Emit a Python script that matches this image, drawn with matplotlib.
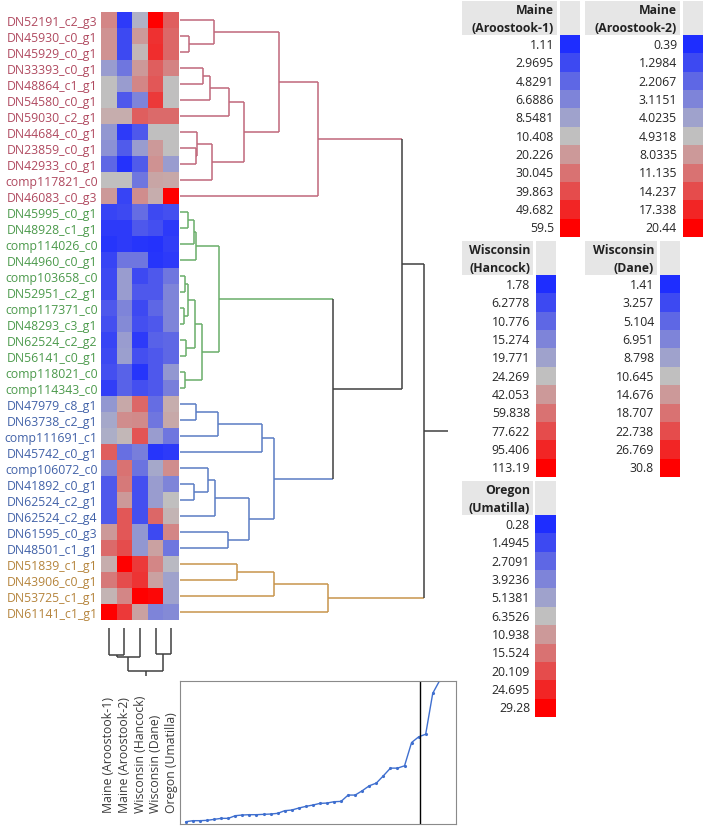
import numpy as np
import matplotlib.pyplot as plt
from matplotlib.colors import LinearSegmentedColormap
from matplotlib.patches import Rectangle
import matplotlib.transforms as mtransforms

plt.rcParams['font.family'] = ['Open Sans', 'DejaVu Sans']

genes = ['DN52191_c2_g3', 'DN45930_c0_g1', 'DN45929_c0_g1', 'DN33393_c0_g1', 'DN48864_c1_g1',
         'DN54580_c0_g1', 'DN59030_c2_g1', 'DN44684_c0_g1', 'DN23859_c0_g1', 'DN42933_c0_g1',
         'comp117821_c0', 'DN46083_c0_g3',
         'DN45995_c0_g1', 'DN48928_c1_g1', 'comp114026_c0', 'DN44960_c0_g1', 'comp103658_c0',
         'DN52951_c2_g1', 'comp117371_c0', 'DN48293_c3_g1', 'DN62524_c2_g2', 'DN56141_c0_g1',
         'comp118021_c0', 'comp114343_c0',
         'DN47979_c8_g1', 'DN63738_c2_g1', 'comp111691_c1', 'DN45742_c0_g1', 'comp106072_c0',
         'DN41892_c0_g1', 'DN62524_c2_g1', 'DN62524_c2_g4', 'DN61595_c0_g3', 'DN48501_c1_g1',
         'DN51839_c1_g1', 'DN43906_c0_g1', 'DN53725_c1_g1', 'DN61141_c1_g1']
gene_cluster = [0] * 12 + [1] * 12 + [2] * 10 + [3] * 4
text_colors = ['#b04a60', '#4c9a4c', '#4262a8', '#b5843c']
line_colors = ['#c0677a', '#6aae6a', '#5a7cc4', '#c8944c']
dark = '#404040'

samples = ['Maine (Aroostook-1)', 'Maine (Aroostook-2)', 'Wisconsin (Hancock)',
           'Wisconsin (Dane)', 'Oregon (Umatilla)']

# position on each sample's colour scale: 0 = lowest (blue), 5 = middle (grey), 10 = highest (red)
levels = np.array([
    [6.5, 0.5, 4.5, 10.0, 7.5],
    [6.2, 1.0, 6.0, 8.7, 7.3],
    [6.2, 1.0, 5.2, 8.8, 7.3],
    [3.8, 2.5, 6.0, 7.5, 6.6],
    [5.0, 3.8, 6.5, 7.7, 5.0],
    [5.0, 1.5, 3.0, 8.5, 5.0],
    [5.5, 5.5, 7.5, 7.2, 7.2],
    [3.6, 0.5, 1.5, 5.0, 5.0],
    [3.4, 1.6, 3.8, 6.0, 5.0],
    [2.0, 0.2, 1.6, 6.2, 3.8],
    [5.0, 5.0, 2.5, 5.7, 5.6],
    [6.0, 0.8, 6.3, 5.5, 10.0],
    [0.8, 1.0, 2.2, 1.0, 1.2],
    [0.5, 0.5, 1.5, 1.2, 0.5],
    [0.3, 0.5, 0.3, 0.2, 0.6],
    [0.8, 2.5, 2.5, 0.3, 0.5],
    [1.0, 3.8, 1.0, 1.5, 2.5],
    [1.0, 3.8, 1.5, 1.5, 3.0],
    [1.5, 3.0, 1.0, 2.0, 3.0],
    [1.2, 3.2, 1.2, 1.5, 3.0],
    [0.8, 3.8, 0.5, 1.8, 2.0],
    [1.0, 3.9, 1.2, 1.5, 2.0],
    [1.2, 1.8, 0.3, 1.5, 3.6],
    [0.6, 1.8, 1.2, 1.5, 2.8],
    [3.6, 5.6, 7.3, 2.2, 5.5],
    [4.2, 6.3, 6.4, 2.5, 5.6],
    [4.4, 5.2, 7.8, 3.8, 2.5],
    [7.5, 2.3, 2.8, 0.3, 0.5],
    [3.0, 7.0, 2.4, 4.2, 6.3],
    [1.5, 6.8, 1.2, 3.8, 3.0],
    [1.5, 6.0, 1.2, 3.8, 5.0],
    [1.5, 7.7, 1.2, 7.3, 5.3],
    [6.0, 7.7, 3.6, 1.0, 6.5],
    [7.2, 8.0, 3.6, 5.8, 2.5],
    [5.5, 10.0, 8.5, 6.5, 4.8],
    [6.8, 8.0, 8.6, 5.8, 4.0],
    [5.3, 6.5, 10.0, 9.8, 4.0],
    [10.0, 8.5, 5.8, 3.0, 3.2],
])

# row tree: (child a, child b, join distance); leaves 0-37, new nodes numbered from 38
row_merges = [(1, 2, 9), (0, 38, 34), (3, 4, 23), (40, 5, 30), (41, 6, 49), (8, 9, 15.7),
              (7, 43, 17.3), (44, 10, 32), (42, 45, 64.3), (39, 46, 99.3), (47, 11, 138.3),
              (12, 13, 8), (49, 14, 14), (50, 15, 16), (16, 17, 5), (18, 19, 4), (52, 53, 8),
              (20, 21, 6), (54, 55, 15), (22, 23, 5), (56, 57, 22.3), (51, 58, 39),
              (24, 25, 15.7), (60, 26, 37.7), (61, 27, 81.7), (29, 30, 14.3), (28, 63, 27.7),
              (64, 31, 35), (32, 33, 48.3), (65, 66, 69.3), (62, 67, 94.3),
              (34, 35, 56.7), (69, 36, 94.3), (70, 37, 148.3),
              (59, 68, 152.7), (48, 72, 222.3), (73, 71, 244.3)]
row_tail = 268

col_merges = [(0, 1, 27), (5, 2, 29.3), (3, 4, 26), (6, 7, 42.7)]
col_tail = 47.7

legend_titles = [('Maine', '(Aroostook-1)'), ('Maine', '(Aroostook-2)'), ('Wisconsin', '(Hancock)'),
                 ('Wisconsin', '(Dane)'), ('Oregon', '(Umatilla)')]
legend_ticks = [
    ['1.11', '2.9695', '4.8291', '6.6886', '8.5481', '10.408', '20.226', '30.045', '39.863', '49.682', '59.5'],
    ['0.39', '1.2984', '2.2067', '3.1151', '4.0235', '4.9318', '8.0335', '11.135', '14.237', '17.338', '20.44'],
    ['1.78', '6.2778', '10.776', '15.274', '19.771', '24.269', '42.053', '59.838', '77.622', '95.406', '113.19'],
    ['1.41', '3.257', '5.104', '6.951', '8.798', '10.645', '14.676', '18.707', '22.738', '26.769', '30.8'],
    ['0.28', '1.4945', '2.7091', '3.9236', '5.1381', '6.3526', '10.938', '15.524', '20.109', '24.695', '29.28'],
]

join_dist = [7, 10, 10, 11, 14, 17, 17, 25, 27, 28, 28, 29, 30, 32, 40, 42, 48, 53, 57,
             62, 63, 67, 68, 87, 87, 100, 115, 123, 145, 168, 168, 175, 245, 262, 270, 393, 432]
cut_at = 33.2

cmap = LinearSegmentedColormap.from_list('bgr', ['#1e2dff', '#c0c0c0', '#ff0000'])

W, H = 709, 828
fig = plt.figure(figsize=(W / 100, H / 100), dpi=100)


def px_axes(x0, y0, x1, y1):
    return fig.add_axes([x0 / W, 1 - y1 / H, (x1 - x0) / W, (y1 - y0) / H])


def draw_tree(ax, merges, groups, colors, tail, vertical=False):
    n = len(groups)
    pos = {i: i + 0.5 for i in range(n)}
    hgt = {i: 0.0 for i in range(n)}
    grp = {i: groups[i] for i in range(n)}

    def seg(h, p, c):
        if vertical:
            ax.plot(p, h, color=c, lw=1.1, solid_capstyle='butt')
        else:
            ax.plot(h, p, color=c, lw=1.1, solid_capstyle='butt')

    node = n
    for a, b, h in merges:
        for c in (a, b):
            seg([hgt[c], h], [pos[c], pos[c]], colors.get(grp[c], dark))
        g = grp[a] if grp[a] == grp[b] else -1
        seg([h, h], [pos[a], pos[b]], colors.get(g, dark))
        pos[node] = (pos[a] + pos[b]) / 2
        hgt[node] = h
        grp[node] = g
        node += 1
    root = node - 1
    seg([hgt[root], tail], [pos[root], pos[root]], dark)


# heatmap
ax_h = px_axes(101, 13, 179, 621)
ax_h.imshow(levels, cmap=cmap, vmin=0, vmax=10, aspect='auto', interpolation='nearest',
            extent=(0, 5, len(genes), 0))
ax_h.set_yticks(np.arange(len(genes)) + 0.5)
ax_h.set_yticklabels(genes, fontsize=8.8)
for lab, g in zip(ax_h.get_yticklabels(), gene_cluster):
    lab.set_color(text_colors[g])
ax_h.set_xticks([])
ax_h.tick_params(length=0, pad=2.5)
for s in ax_h.spines.values():
    s.set_visible(False)

# row dendrogram
ax_r = px_axes(180, 13, 460, 621)
draw_tree(ax_r, row_merges, gene_cluster, dict(enumerate(line_colors)), row_tail)
ax_r.set_xlim(0, 280)
ax_r.set_ylim(len(genes), 0)
ax_r.axis('off')

# column dendrogram
ax_c = px_axes(101, 629, 179, 680)
draw_tree(ax_c, col_merges, [-1] * 5, {}, col_tail, vertical=True)
ax_c.set_xlim(0, 5)
ax_c.set_ylim(51, 0)
ax_c.axis('off')

trans = mtransforms.blended_transform_factory(ax_h.transData, fig.transFigure)
for j, s in enumerate(samples):
    ax_h.text(j + 0.5, 1 - 813 / H, s, transform=trans, rotation=90, ha='center', va='bottom',
              fontsize=8.8, color='#3a3a3a', clip_on=False)

# join distance plot
ax_d = px_axes(180, 682, 456, 825)
ax_d.plot(np.arange(len(join_dist)), join_dist, color='#3f6fcf', lw=1, marker='.', ms=2.5)
ax_d.axvline(cut_at, color='black', lw=1)
ax_d.set_xlim(-0.85, 38.3)
ax_d.set_ylim(0, 430)
ax_d.set_xticks([])
ax_d.set_yticks([])
for s in ax_d.spines.values():
    s.set_color('#8a8a8a')

# colour legends (text box x0, x1, swatch x0, x1, header top, header bottom)
leg_boxes = [(462, 557, 560, 580, 2, 36), (585, 680, 683, 703, 2, 36),
             (462, 533, 536, 556, 242, 276), (585, 657, 660, 680, 242, 276),
             (462, 533, 535, 556, 482, 516)]
sw = 18.3
ax_l = fig.add_axes([0, 0, 1, 1])
ax_l.set_xlim(0, W)
ax_l.set_ylim(H, 0)
ax_l.axis('off')
steps = np.linspace(0, 10, 11)
for (tx0, tx1, sx0, sx1, hy0, hy1), (t1, t2), ticks in zip(leg_boxes, legend_titles, legend_ticks):
    ax_l.add_patch(Rectangle((tx0, hy0), tx1 - tx0, hy1 - hy0, color='#e6e6e6', lw=0))
    ax_l.add_patch(Rectangle((sx0, hy0), sx1 - sx0, hy1 - hy0, color='#e6e6e6', lw=0))
    ax_l.text(tx1 - 3, hy0 + 8.5, t1, ha='right', va='center', fontsize=8.8, fontweight='bold', color='#222222')
    ax_l.text(tx1 - 3, hy0 + 26.5, t2, ha='right', va='center', fontsize=8.8, fontweight='bold', color='#222222')
    ax_l.imshow(steps[:, None], cmap=cmap, vmin=0, vmax=10, aspect='auto', interpolation='nearest',
                extent=(sx0, sx1, hy1 + 0.5 + sw * 11, hy1 + 0.5))
    for k, t in enumerate(ticks):
        ax_l.text(tx1 - 3, hy1 + 0.5 + sw * (k + 0.5), t, ha='right', va='center', fontsize=8.8, color='#262626')
ax_l.set_xlim(0, W)
ax_l.set_ylim(H, 0)

fig.savefig('out.png', dpi=100)
